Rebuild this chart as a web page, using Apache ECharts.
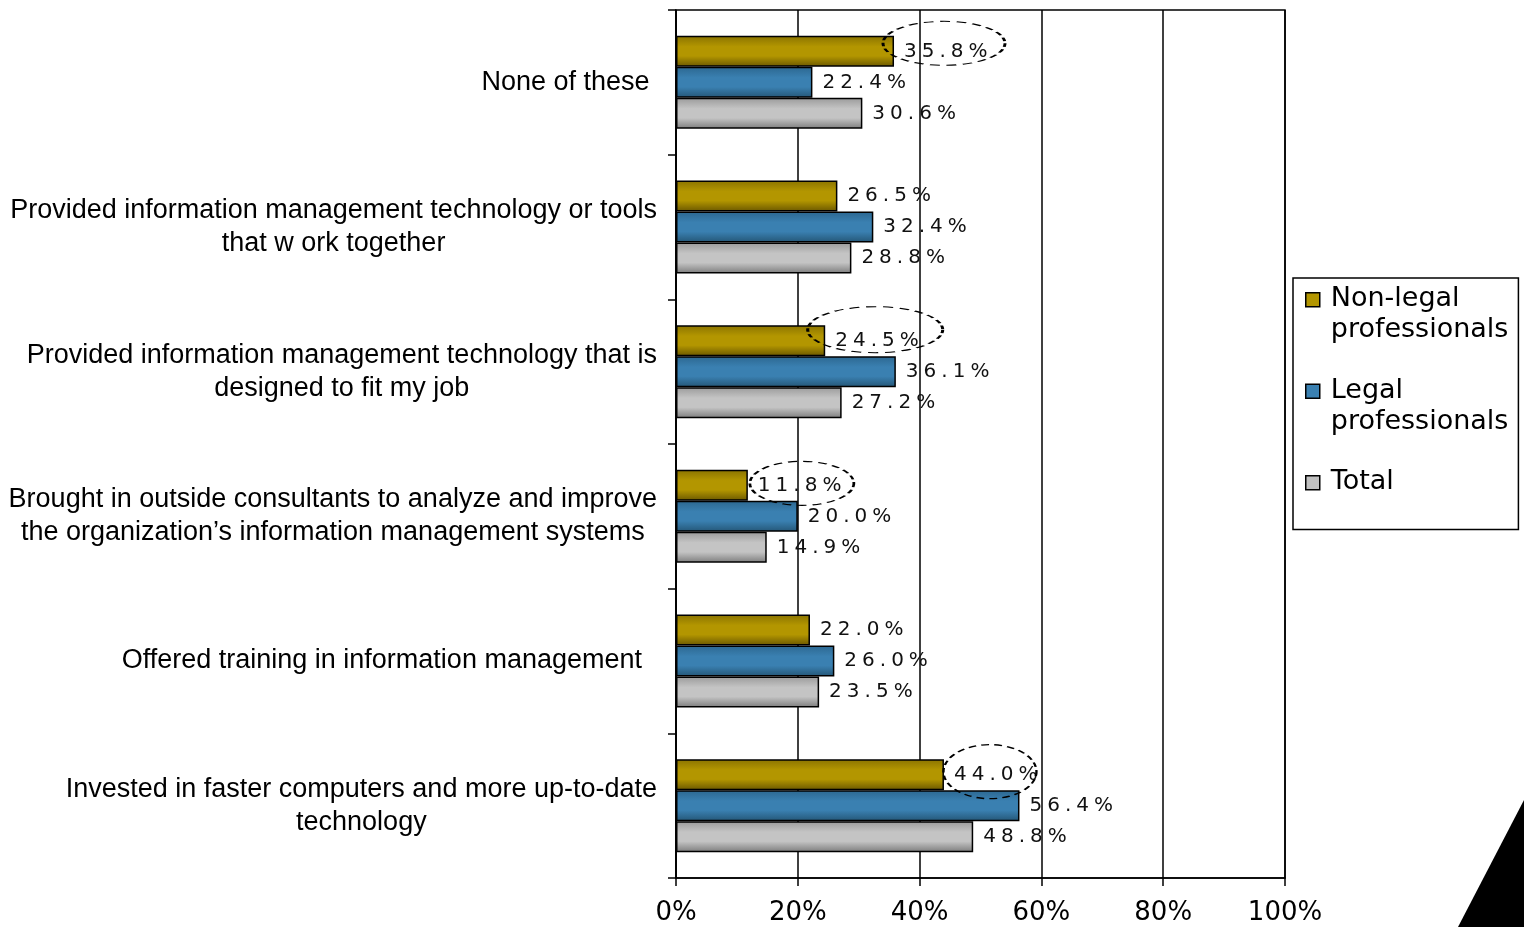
<!DOCTYPE html>
<html>
<head>
<meta charset="utf-8">
<title>Information management actions</title>
<script src="https://cdn.jsdelivr.net/npm/echarts@6/dist/echarts.min.js"></script>
<style>
  html, body { margin: 0; padding: 0; background: #fff; }
  #chart { width: 1524px; height: 927px; }
</style>
</head>
<body>
<div id="chart"></div>
<script>
// categories, top to bottom (trailing spaces as in the original layout)
const categories = [
  'None of these ',
  'Provided information management technology or tools\nthat w ork together',
  'Provided information management technology that is\ndesigned to fit my job',
  'Brought in outside consultants to analyze and improve\nthe organization\u2019s information management systems',
  'Offered training in information management  ',
  'Invested in faster computers and more up-to-date\ntechnology'
]
const seriesNames = ['Non-legal professionals', 'Legal professionals', 'Total']
const nonLegal = [35.8, 26.5, 24.5, 11.8, 22.0, 44.0]
const legal = [22.4, 32.4, 36.1, 20.0, 26.0, 56.4]
const total = [30.6, 28.8, 27.2, 14.9, 23.5, 48.8]
const xTicks = [0, 20, 40, 60, 80, 100]
// values circled with a dashed ellipse (Non-legal series)
const circled = [
  { cat: 0, value: 35.8, size: [122, 44], offset: [50, -8] },
  { cat: 2, value: 24.5, size: [135, 46], offset: [50, -11] },
  { cat: 3, value: 11.8, size: [104, 44], offset: [54, -2] },
  { cat: 5, value: 44.0, size: [93, 54], offset: [46, -3] }
]

const chartInstance = echarts.init(document.getElementById('chart'))

function grad (edge, mid, edge2) {
  return new echarts.graphic.LinearGradient(0, 0, 0, 1, [
    { offset: 0, color: edge },
    { offset: 0.35, color: mid },
    { offset: 0.65, color: mid },
    { offset: 1, color: edge2 }
  ])
}
const fills = [
  grad('#8a7300', '#b39600', '#6a5700'),
  grad('#2c6790', '#3a80b1', '#245676'),
  grad('#9a9a9a', '#c4c4c4', '#7c7c7c')
]
const flat = ['#b39600', '#3a80b1', '#c0c0c0']

// spaced-out digits like the original
const spaced = (s, sp) => s.split('').join(sp)

const valueArrs = [nonLegal, legal, total]
const seriesArr = valueArrs.map((arr, i) => {
  const s = {
    name: seriesNames[i],
    type: 'bar',
    data: arr,
    barWidth: 31,
    barGap: '0%',
    itemStyle: {
      color: fills[i],
      borderColor: '#000',
      borderWidth: 1.5
    },
    label: {
      show: true,
      position: 'right',
      distance: 10,
      color: '#111',
      fontFamily: 'DejaVu Sans',
      fontSize: 20,
      formatter: p => spaced(p.value.toFixed(1) + '%', '\u2005')
    }
  }
  if (i === 0) {
    s.markPoint = {
      silent: true,
      symbol: 'circle',
      label: { show: false },
      itemStyle: {
        color: 'rgba(0,0,0,0)',
        borderColor: '#000',
        borderWidth: 1.8,
        borderType: [6, 4]
      },
      data: circled.map(c => ({
        coord: [c.value, c.cat],
        symbolSize: c.size,
        symbolOffset: c.offset
      }))
    }
  }
  return s
})

// legend text: two lines each, square aligned with the first line
const legendLines = {
  'Non-legal professionals': 'Non-legal\nprofessionals',
  'Legal professionals': 'Legal\nprofessionals',
  Total: 'Total\n '
}
const legendIcon = 'path://M0,0M0,62M0,9L14,9L14,23L0,23Z'

const option = {
  animation: false,
  backgroundColor: '#fff',
  grid: {
    left: 676,
    right: 239,
    top: 10,
    bottom: 49,
    show: true,
    borderColor: '#000',
    borderWidth: 1.5,
    backgroundColor: 'transparent'
  },
  legend: {
    orient: 'vertical',
    left: 1293,
    top: 278,
    padding: [5, 10, 0, 12],
    backgroundColor: '#fff',
    borderColor: '#000',
    borderWidth: 1.5,
    borderRadius: 0,
    itemWidth: 14,
    itemHeight: 62,
    itemGap: 28,
    icon: legendIcon,
    data: seriesNames.map((n, i) => ({
      name: n,
      itemStyle: { color: flat[i], borderColor: '#000', borderWidth: 1.5 }
    })),
    formatter: n => legendLines[n],
    textStyle: {
      fontFamily: 'DejaVu Sans',
      fontSize: 27,
      lineHeight: 31,
      color: '#000',
      padding: [0, 0, 0, 6]
    }
  },
  xAxis: {
    type: 'value',
    min: xTicks[0],
    max: xTicks[xTicks.length - 1],
    interval: 20,
    axisLine: { show: true, lineStyle: { color: '#000', width: 1.5 } },
    axisTick: { show: true, length: 8, lineStyle: { color: '#000', width: 1.5 } },
    splitLine: { show: true, lineStyle: { color: '#000', width: 1.5 } },
    axisLabel: {
      formatter: '{value}%',
      margin: 22,
      color: '#000',
      fontFamily: 'DejaVu Sans',
      fontSize: 26
    }
  },
  yAxis: {
    type: 'category',
    inverse: true,
    data: categories,
    axisLine: { show: true, lineStyle: { color: '#000', width: 1.5 } },
    axisTick: { show: true, length: 8, lineStyle: { color: '#000', width: 1.5 } },
    axisLabel: {
      margin: 19,
      color: '#000',
      fontFamily: 'Liberation Sans',
      fontSize: 27,
      lineHeight: 33,
      formatter: v => v.split('\n').map(l => '{c|' + l + '}').join('\n'),
      rich: {
        c: { align: 'center', fontFamily: 'Liberation Sans', fontSize: 27, lineHeight: 33, color: '#000' }
      }
    }
  },
  series: seriesArr,
  graphic: [
    {
      type: 'polygon',
      silent: true,
      shape: { points: [[1524, 800], [1524, 927], [1458, 927]] },
      style: { fill: '#000' }
    }
  ]
}

chartInstance.setOption(option)
</script>
</body>
</html>
